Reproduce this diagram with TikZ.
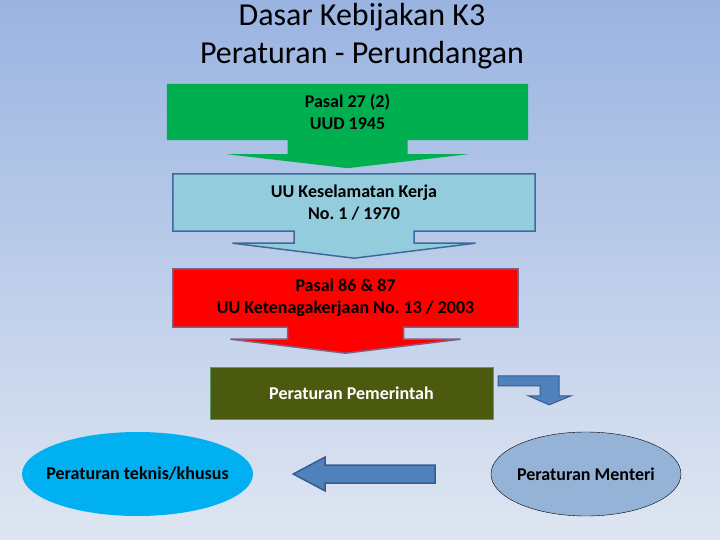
\documentclass[tikz,border=0pt]{standalone}
\usepackage{fontspec}
\setmainfont{Carlito}
\usetikzlibrary{backgrounds,shapes.geometric}
\frenchspacing

\definecolor{bgtop}{HTML}{9AB4E1}
\definecolor{bgbottom}{HTML}{DFE6F2}
\definecolor{kgreen}{HTML}{00B050}
\definecolor{klightblue}{HTML}{93CDDD}
\definecolor{klightborder}{HTML}{41689E}
\definecolor{kred}{HTML}{FF0000}
\definecolor{kredborder}{HTML}{7F6084}
\definecolor{kolive}{HTML}{4B5A0E}
\definecolor{koliveborder}{HTML}{5B9B6B}
\definecolor{karrow}{HTML}{4F81BD}
\definecolor{karrowborder}{HTML}{385D8A}
\definecolor{kcyan}{HTML}{00B0F0}
\definecolor{kgrayblue}{HTML}{95B3D7}

\tikzset{
  box/.style={rectangle, align=center, inner sep=0pt, font=\fontsize{18}{22}\selectfont\bfseries},
  oval/.style={ellipse, inner xsep=-10pt, inner ysep=0pt, font=\fontsize{18}{22}\selectfont\bfseries},
  blockarrow/.style={fill=karrow, draw=karrowborder, line width=1.5pt, line join=miter}
}

\begin{document}
\begin{tikzpicture}[x=1pt,y=-1pt]
    \useasboundingbox (0,0) rectangle (720,540);
    % title
    \node[align=center, font=\fontsize{32}{38}\selectfont] (title) at (362,36)
        {Dasar Kebijakan K3\\Peraturan - Perundangan};
    % the four boxes
    \node[box, minimum width=361pt, minimum height=56pt] (uud) at (347.5,112) {Pasal 27 (2)\\UUD 1945};
    \node[box, minimum width=362pt, minimum height=57pt] (uuk) at (354,202.5) {UU Keselamatan Kerja\\No. 1 / 1970};
    \node[box, minimum width=345pt, minimum height=58pt] (uutk) at (345.5,298) {Pasal 86 \& 87\\UU Ketenagakerjaan No. 13 / 2003};
    \node[box, minimum width=283pt, minimum height=52pt, fill=kolive, draw=koliveborder, text=white] (pp) at (351.5,393) {Peraturan Pemerintah};
    % the two ovals
    \node[oval, minimum width=231pt, minimum height=84pt, fill=kcyan] (teknis) at (137.5,474) {Peraturan teknis/khusus};
    \node[oval, minimum width=190pt, minimum height=84pt, fill=kgrayblue, draw=black, thin] (menteri) at (586,474) {Peraturan Menteri};
    % callouts behind the texts
    \begin{scope}[on background layer]
        \shade[top color=bgtop, bottom color=bgbottom] (0,0) rectangle (720,540);
        \fill[kgreen] (uud.north west) -- (uud.north east) -- (uud.south east)
            -- ([xshift=60pt]uud.south) -- ++(0,14) -- ++(60.5,0) -- ([yshift=-28pt]uud.south)
            -- ([xshift=-120.5pt,yshift=-14pt]uud.south) -- ++(60.5,0) -- ([xshift=-60pt]uud.south)
            -- (uud.south west) -- cycle;
        \draw[fill=klightblue, draw=klightborder, line width=1.5pt, line join=miter]
            (uuk.north west) -- (uuk.north east) -- (uuk.south east)
            -- ([xshift=60pt]uuk.south) -- ++(0,12) -- ++(61.5,0) -- ([yshift=-27pt]uuk.south)
            -- ([xshift=-121.5pt,yshift=-12pt]uuk.south) -- ++(61.5,0) -- ([xshift=-60pt]uuk.south)
            -- (uuk.south west) -- cycle;
        \draw[fill=kred, draw=kredborder, line width=1.5pt, line join=miter]
            (uutk.north west) -- (uutk.north east) -- (uutk.south east)
            -- ([xshift=58pt]uutk.south) -- ++(0,12) -- ++(57,0) -- ([yshift=-26pt]uutk.south)
            -- ([xshift=-115pt,yshift=-12pt]uutk.south) -- ++(57,0) -- ([xshift=-58pt]uutk.south)
            -- (uutk.south west) -- cycle;
    \end{scope}
    % bent arrow from Peraturan Pemerintah down to Peraturan Menteri
    \draw[blockarrow, line width=1pt] ([xshift=5pt,yshift=-9pt]pp.north east) coordinate (bendstart)
        -- ++(61,0) -- ++(0,20) -- ++(12,0) -- ++(-22,9) -- ++(-21,-9) -- ++(12,0)
        -- ++(0,-10) -- ++(-42,0) -- cycle;
    % arrow from Peraturan Menteri to Peraturan teknis/khusus
    \draw[blockarrow] ([xshift=40pt]teknis.east) coordinate (tip)
        -- ++(32,-17) -- ++(0,8) -- ++(110,0) -- ++(0,18) -- ++(-110,0) -- ++(0,8) -- cycle;
\end{tikzpicture}
\end{document}
